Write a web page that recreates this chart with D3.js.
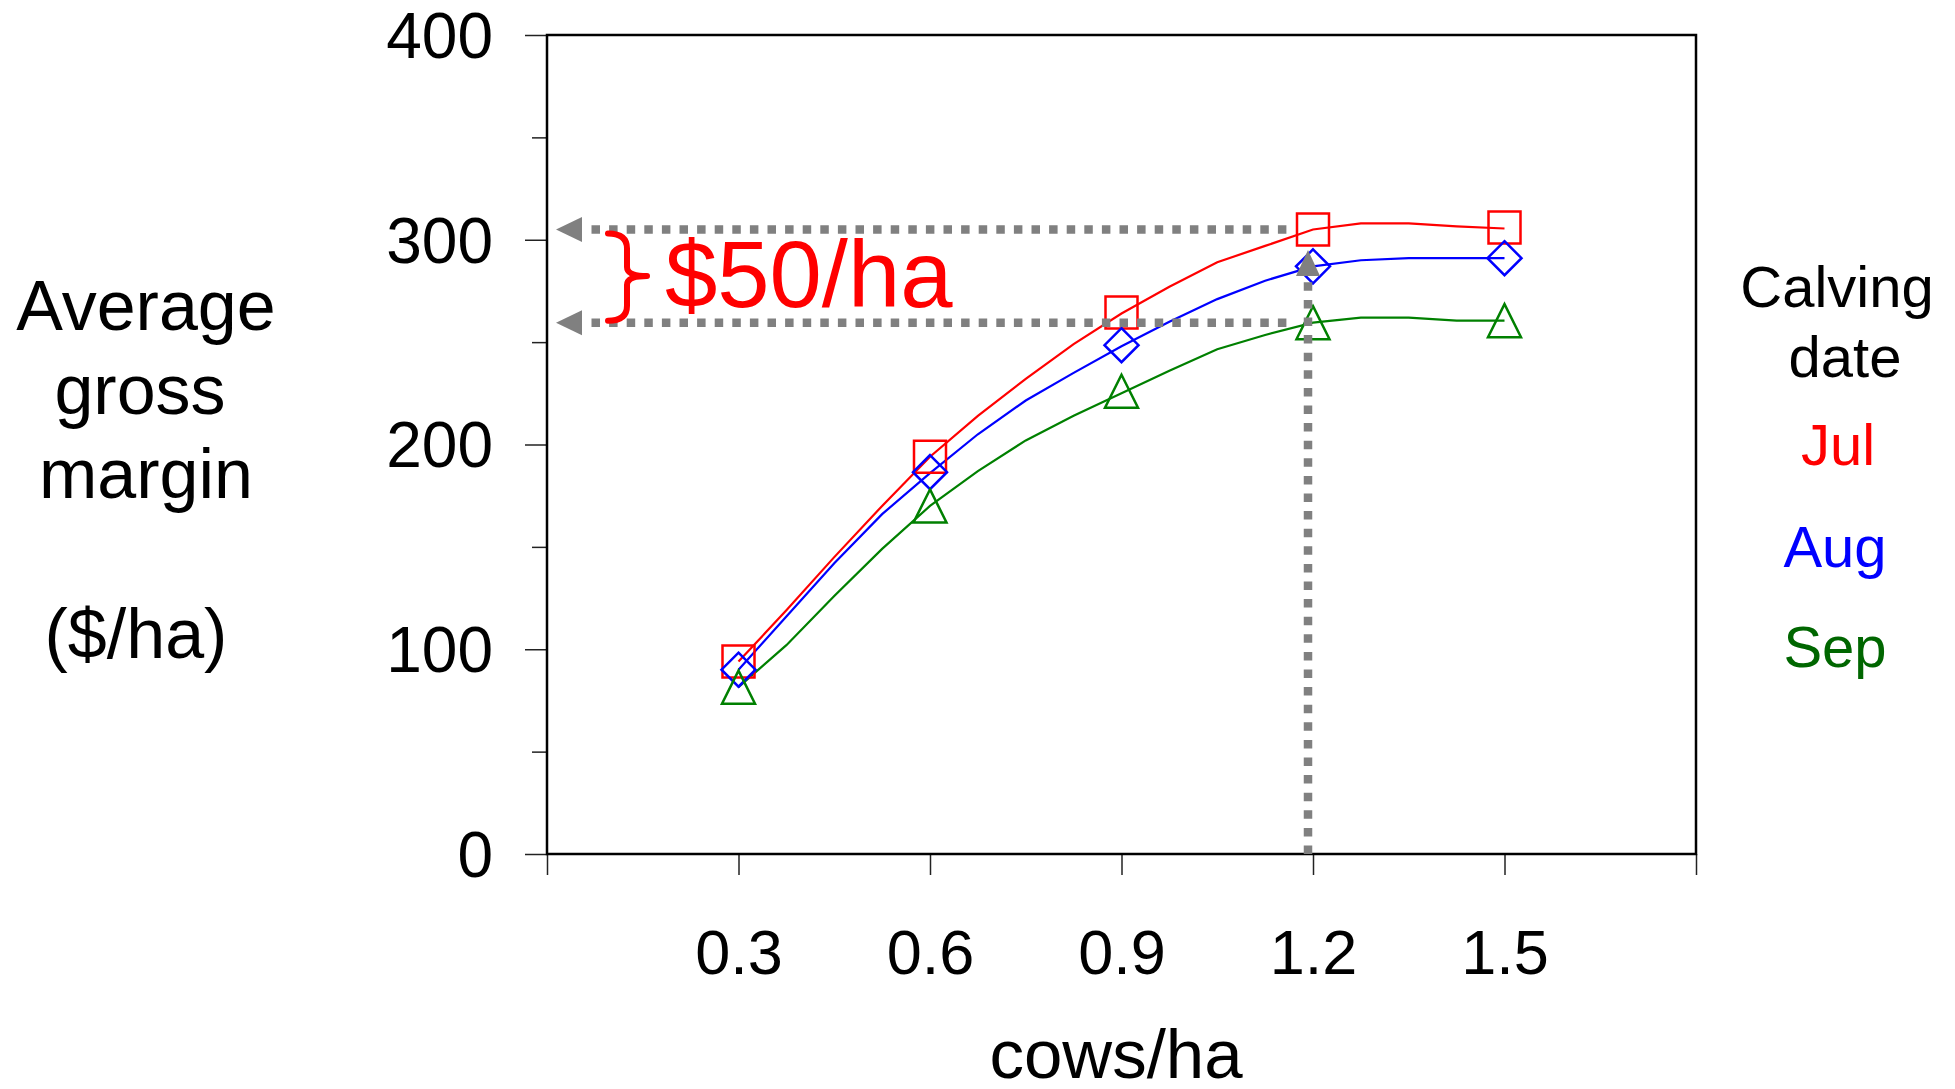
<!DOCTYPE html>
<html>
<head>
<meta charset="utf-8">
<script src="https://cdn.jsdelivr.net/npm/d3@7"></script>
<style>
  html, body { margin: 0; padding: 0; background: #fff; }
  svg { display: block; font-family: Arial, "Liberation Sans", sans-serif; }
</style>
</head>
<body>
<svg id="chart" width="1955" height="1089"></svg>
<script>
// Stocking rate (cows/ha) at which each marker sits
const stockingRates = [0.3, 0.6, 0.9, 1.2, 1.5];
// Average gross margin ($/ha) at the markers, by calving month
const julMarkers = [94, 194, 264.5, 305, 306];
const augMarkers = [90, 186.5, 248.5, 287, 291];
const sepMarkers = [81.5, 170, 226, 259.5, 260.5];

// Finer response curves (step 0.075 cows/ha)
const curveRates = [0.3, 0.375, 0.45, 0.525, 0.6, 0.675, 0.75, 0.825, 0.9,
                    0.975, 1.05, 1.125, 1.2, 1.275, 1.35, 1.425, 1.5];
const julCurve = [94, 119, 145, 170, 194, 214, 232, 249, 264, 277, 289, 297, 305, 308, 308, 306.5, 305.5];
const augCurve = [90, 116, 142, 166, 186, 205, 221.5, 235, 248, 260, 271, 280, 287, 290, 291, 291, 291];
const sepCurve = [81.5, 102, 126, 149, 170, 187, 202, 214, 225, 236, 246.5, 253.5, 259.5, 262, 262, 260.5, 260.5];

const xTicks = [0, 0.3, 0.6, 0.9, 1.2, 1.5, 1.8];
const xTickLabels = ["", "0.3", "0.6", "0.9", "1.2", "1.5", ""];
const yMajorTicks = [0, 100, 200, 300, 400];
const yMinorTicks = [50, 150, 250, 350];

const legendTitle = ["Calving", "date"];
const seriesNames = ["Jul", "Aug", "Sep"];
const yTitleLines = ["Average", "gross", "margin", "($/ha)"];
const xTitle = "cows/ha";
const gapLabel = "$50/ha";

const svg = d3.select("#chart");
const plotLeft = 547, plotRight = 1696, plotTop = 35, plotBottom = 854;

const x = d3.scaleLinear().domain([0, 1.8]).range([plotLeft, plotRight]);
const y = d3.scaleLinear().domain([0, 400]).range([plotBottom, plotTop]);

// Y axis: labelled major ticks plus shorter minor ticks
const yMajor = svg.append("g").attr("transform", `translate(${plotLeft},0)`)
  .call(d3.axisLeft(y).tickValues(yMajorTicks).tickSize(22).tickPadding(32).tickFormat(d3.format("d")));
yMajor.select(".domain").remove();
yMajor.selectAll("line").attr("stroke", "#222").attr("stroke-width", 1.5);
yMajor.selectAll("text").attr("font-size", 64).attr("fill", "#000")
  .attr("font-family", "Arial, 'Liberation Sans', sans-serif").attr("dy", "0.35em");

const yMinor = svg.append("g").attr("transform", `translate(${plotLeft},0)`)
  .call(d3.axisLeft(y).tickValues(yMinorTicks).tickSize(15).tickFormat(""));
yMinor.select(".domain").remove();
yMinor.selectAll("line").attr("stroke", "#222").attr("stroke-width", 1.5);

// X axis
const xAxis = svg.append("g").attr("transform", `translate(0,${plotBottom})`)
  .call(d3.axisBottom(x).tickValues(xTicks).tickSize(21).tickFormat((d, i) => xTickLabels[i]));
xAxis.select(".domain").remove();
xAxis.selectAll("line").attr("stroke", "#222").attr("stroke-width", 1.5);
xAxis.selectAll("text").attr("font-size", 63).attr("fill", "#000")
  .attr("font-family", "Arial, 'Liberation Sans', sans-serif")
  .attr("dy", null).attr("y", 120);

// Plot frame
svg.append("rect").attr("x", plotLeft).attr("y", plotTop)
  .attr("width", plotRight - plotLeft).attr("height", plotBottom - plotTop)
  .attr("fill", "none").attr("stroke", "#000").attr("stroke-width", 2.5);

const series = [
  { name: "Jul", color: "#ff0000", curve: julCurve, markers: julMarkers, shape: "square" },
  { name: "Aug", color: "#0000ff", curve: augCurve, markers: augMarkers, shape: "diamond" },
  { name: "Sep", color: "#008000", curve: sepCurve, markers: sepMarkers, shape: "triangle" }
];

const line = d3.line().x(d => x(d[0])).y(d => y(d[1]));

// Response curves
series.forEach(s => {
  svg.append("path")
    .datum(curveRates.map((r, i) => [r, s.curve[i]]))
    .attr("d", line)
    .attr("fill", "none").attr("stroke", s.color).attr("stroke-width", 2.2);
});

// Markers
const half = 16;
series.forEach(s => {
  const g = svg.append("g");
  stockingRates.forEach((r, i) => {
    const cx = x(r), cy = y(s.markers[i]);
    let d;
    if (s.shape === "square") {
      d = `M${cx - half},${cy - half} h${2 * half} v${2 * half} h${-2 * half} Z`;
    } else if (s.shape === "diamond") {
      const h = 17;
      d = `M${cx},${cy - h} L${cx + h},${cy} L${cx},${cy + h} L${cx - h},${cy} Z`;
    } else {
      const h = 16.5;
      d = `M${cx},${cy - h} L${cx + h},${cy + h} L${cx - h},${cy + h} Z`;
    }
    g.append("path").attr("d", d).attr("fill", "none")
      .attr("stroke", s.color).attr("stroke-width", 2.5);
  });
});

// Gap annotation: dotted guides with arrowheads, drawn over the series
const gray = "#808080";
const dotted = { stroke: gray, "stroke-width": 8.5, "stroke-dasharray": "8.5,9.1" };
function dottedLine(x1, y1, x2, y2) {
  const l = svg.append("line").attr("x1", x1).attr("y1", y1).attr("x2", x2).attr("y2", y2);
  Object.entries(dotted).forEach(([k, v]) => l.attr(k, v));
}
const topGuide = y(julMarkers[3]);
const lowGuide = y(sepMarkers[3]);
const guideEnd = x(1.2) - 26;
[topGuide, lowGuide].forEach(gy => {
  dottedLine(591.5, gy, guideEnd, gy);
  svg.append("path")
    .attr("d", `M556,${gy} L582,${gy - 12.5} L582,${gy + 12.5} Z`)
    .attr("fill", gray);
});
const vx = x(1.2) - 5;
const vTip = y(295);
dottedLine(vx, plotBottom, vx, vTip + 27);
svg.append("path")
  .attr("d", `M${vx},${vTip} L${vx - 12},${vTip + 26} L${vx + 12},${vTip + 26} Z`)
  .attr("fill", gray);

// Brace and gap label
const midGuide = (topGuide + lowGuide) / 2;
svg.append("path")
  .attr("d", `M608,${topGuide + 4} Q627,${topGuide + 4} 627,${topGuide + 19} L627,${midGuide - 9}
              Q627,${midGuide} 647,${midGuide}
              Q627,${midGuide} 627,${midGuide + 9}
              L627,${lowGuide - 17} Q627,${lowGuide - 2} 608,${lowGuide - 2}`)
  .attr("fill", "none").attr("stroke", "#ff0000").attr("stroke-width", 6)
  .attr("stroke-linecap", "round").attr("stroke-linejoin", "round");
svg.append("text").attr("x", 665).attr("y", 307)
  .attr("font-size", 94).attr("fill", "#ff0000").text(gapLabel);

// Y axis title
const yTitleX = [146, 140, 146, 136];
const yTitleY = [330, 414, 498, 658];
yTitleLines.forEach((t, i) => {
  svg.append("text").attr("x", yTitleX[i]).attr("y", yTitleY[i])
    .attr("text-anchor", "middle").attr("font-size", 70).attr("fill", "#000").text(t);
});

// X axis title
svg.append("text").attr("x", 1116).attr("y", 1078)
  .attr("text-anchor", "middle").attr("font-size", 69).attr("fill", "#000").text(xTitle);

// Legend
const legendX = [1837, 1845];
const legendY = [307, 377];
legendTitle.forEach((t, i) => {
  svg.append("text").attr("x", legendX[i]).attr("y", legendY[i])
    .attr("text-anchor", "middle").attr("font-size", 58).attr("fill", "#000").text(t);
});
const seriesTextColor = ["#ff0000", "#0000ff", "#006600"];
const seriesY = [465, 567, 667];
const seriesX = [1838, 1835, 1835];
seriesNames.forEach((t, i) => {
  svg.append("text").attr("x", seriesX[i]).attr("y", seriesY[i])
    .attr("text-anchor", "middle").attr("font-size", 58).attr("fill", seriesTextColor[i]).text(t);
});
</script>
</body>
</html>
